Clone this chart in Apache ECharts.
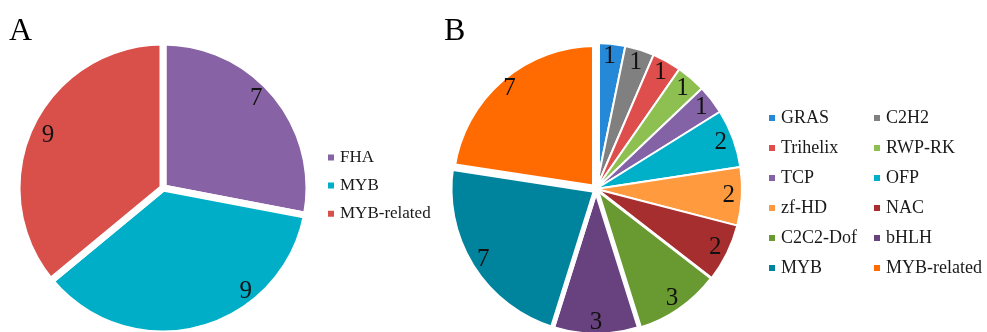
<!DOCTYPE html>
<html>
<head>
<meta charset="utf-8">
<title>Transcription factor families</title>
<script src="https://cdn.jsdelivr.net/npm/echarts@6/dist/echarts.min.js"></script>
<style>
  html, body { margin: 0; padding: 0; background: #ffffff; }
  #chart { width: 987px; height: 332px; }
</style>
</head>
<body>
<div id="chart"></div>
<script>
// Panel A: family counts
const familiesA = ['FHA', 'MYB', 'MYB-related'];
const countsA = [7, 9, 9];
const colorsA = ['#8763A6', '#00AEC7', '#D9504B'];

// Panel B: family counts
const familiesB = ['GRAS', 'C2H2', 'Trihelix', 'RWP-RK', 'TCP', 'OFP',
  'zf-HD', 'NAC', 'C2C2-Dof', 'bHLH', 'MYB', 'MYB-related'];
const countsB = [1, 1, 1, 1, 1, 2, 2, 2, 3, 3, 7, 7];
const colorsB = ['#2589D8', '#808080', '#DE4E4C', '#8DC051', '#8462A6', '#00B0C8',
  '#FF9A3E', '#A72E2E', '#689A31', '#68427F', '#00849D', '#FF6B00'];

// Legend columns for panel B
const legendColB1 = ['GRAS', 'Trihelix', 'TCP', 'zf-HD', 'C2C2-Dof', 'MYB'];
const legendColB2 = ['C2H2', 'RWP-RK', 'OFP', 'NAC', 'bHLH', 'MYB-related'];

const SERIF = '"Liberation Serif", "Times New Roman", "DejaVu Serif", serif';

const RA = 146, RB = 146;
const centerA = [163, 188], centerB = [596, 189];

// slice outline widths in panel B (white gaps between wedges)
const gapB = [2, 2, 2, 2, 2, 2, 2, 2, 3, 5, 5, 8];

const sliceData = (names, vals, colors, border) => names.map((n, i) => ({
  name: n,
  value: vals[i],
  itemStyle: { color: colors[i], borderColor: '#ffffff', borderWidth: Array.isArray(border) ? border[i] : border }
}));

const labelData = (names, vals, tweaks) => names.map((n, i) => {
  const d = { name: n, value: vals[i] };
  if (tweaks && tweaks[n]) d.label = { offset: tweaks[n] };
  return d;
});

const colorOf = (names, colors) => n => colors[names.indexOf(n)];
const colA = colorOf(familiesA, colorsA);
const colB = colorOf(familiesB, colorsB);

const legendCommon = (size, gap) => ({
  orient: 'vertical',
  icon: 'rect',
  padding: 0,
  itemWidth: 8,
  itemHeight: 8,
  itemTextGap: gap,
  selectedMode: false,
  textStyle: { fontFamily: SERIF, fontSize: size, color: '#1a1a1a', lineHeight: 16 }
});

const labelSeries = (center, r, r0, names, vals, tweaks) => ({
  type: 'pie',
  center: center,
  radius: [r0, r],
  silent: true,
  animation: false,
  z: 5,
  data: labelData(names, vals, tweaks),
  itemStyle: { color: 'rgba(0,0,0,0)' },
  label: {
    show: true,
    position: 'inside',
    formatter: '{c}',
    fontFamily: SERIF,
    fontSize: 25,
    color: '#111111'
  },
  labelLine: { show: false },
  emphasis: { disabled: true }
});

const titleStyle = { fontFamily: SERIF, fontSize: 32, fontWeight: 'normal', color: '#000' };

const option = {
  backgroundColor: '#ffffff',
  animation: false,
  title: [
    { text: 'A', left: 9, top: 16, padding: 0, textStyle: titleStyle },
    { text: 'B', left: 444, top: 16, padding: 0, textStyle: titleStyle }
  ],
  legend: [
    Object.assign(legendCommon(17, 3), {
      left: 326, top: 149, itemGap: 11.1,
      data: familiesA.map(n => ({ name: n, itemStyle: { color: colA(n) } }))
    }),
    Object.assign(legendCommon(18, 5), {
      left: 767, top: 109, itemGap: 12,
      data: legendColB1.map(n => ({ name: n, itemStyle: { color: colB(n) } }))
    }),
    Object.assign(legendCommon(18, 5), {
      left: 872, top: 109, itemGap: 12,
      data: legendColB2.map(n => ({ name: n, itemStyle: { color: colB(n) } }))
    })
  ],
  series: [
    {
      type: 'pie',
      center: centerA,
      radius: RA,
      startAngle: 90,
      clockwise: true,
      data: sliceData(familiesA, countsA, colorsA, 7),
      label: { show: false },
      labelLine: { show: false },
      emphasis: { disabled: true }
    },
    {
      type: 'pie',
      center: centerB,
      radius: RB,
      startAngle: 90,
      clockwise: true,
      data: sliceData(familiesB, countsB, colorsB, gapB),
      label: { show: false },
      labelLine: { show: false },
      emphasis: { disabled: true }
    },
    labelSeries(centerA, RA, RA * 0.76, familiesA, countsA, { 'FHA': [-8, -6], 'MYB': [50, -24], 'MYB-related': [4, 3] }),
    labelSeries(centerB, RB, RB * 0.78, familiesB, countsB, null)
  ]
};

const chart = echarts.init(document.getElementById('chart'), null, { renderer: 'canvas' });
chart.setOption(option);
</script>
</body>
</html>
